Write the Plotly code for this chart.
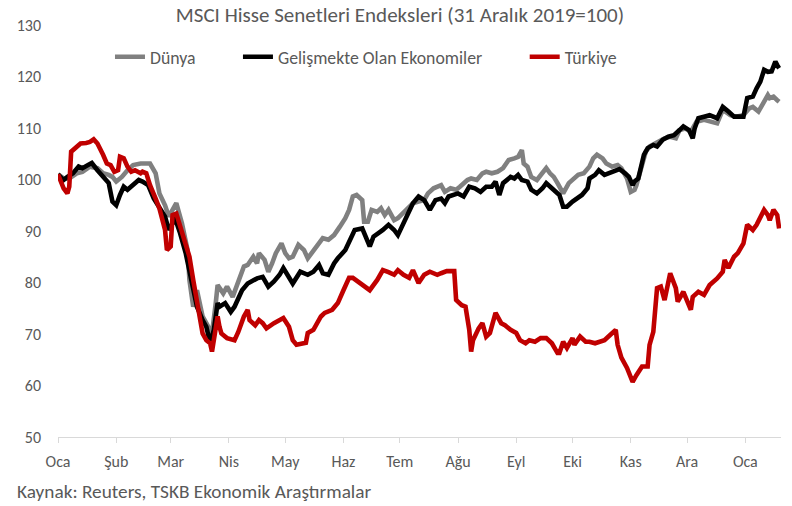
import plotly.graph_objects as go

# ---------------- data ----------------
dunya_dates = [
    "2020-01-01","2020-01-04","2020-01-07","2020-01-11","2020-01-14","2020-01-18","2020-01-22","2020-01-25",
    "2020-01-28","2020-01-30","2020-02-01","2020-02-04","2020-02-07","2020-02-10","2020-02-14","2020-02-19",
    "2020-02-22","2020-02-24","2020-02-27","2020-02-29","2020-03-02","2020-03-04","2020-03-07","2020-03-10",
    "2020-03-11","2020-03-13","2020-03-15","2020-03-18","2020-03-20","2020-03-23","2020-03-25","2020-03-26",
    "2020-03-29","2020-03-31","2020-04-03","2020-04-05","2020-04-09","2020-04-11","2020-04-14","2020-04-16",
    "2020-04-17","2020-04-20","2020-04-22","2020-04-24","2020-04-26","2020-04-29","2020-05-01","2020-05-03",
    "2020-05-05","2020-05-08","2020-05-11","2020-05-13","2020-05-16","2020-05-19","2020-05-21","2020-05-24",
    "2020-05-27","2020-05-30","2020-06-02","2020-06-04","2020-06-06","2020-06-08","2020-06-11","2020-06-12",
    "2020-06-14","2020-06-16","2020-06-19","2020-06-21","2020-06-23","2020-06-25","2020-06-28","2020-06-30",
    "2020-07-03","2020-07-06","2020-07-08","2020-07-11","2020-07-14","2020-07-16","2020-07-19","2020-07-23",
    "2020-07-25","2020-07-28","2020-07-31","2020-08-02","2020-08-06","2020-08-08","2020-08-11","2020-08-14",
    "2020-08-16","2020-08-19","2020-08-22","2020-08-25","2020-08-28","2020-08-31","2020-09-02","2020-09-04",
    "2020-09-05","2020-09-07","2020-09-09","2020-09-12","2020-09-15","2020-09-17","2020-09-19","2020-09-21",
    "2020-09-23","2020-09-26","2020-09-29","2020-10-02","2020-10-04","2020-10-07","2020-10-10","2020-10-12",
    "2020-10-14","2020-10-17","2020-10-19","2020-10-22","2020-10-25","2020-10-27","2020-10-30","2020-11-01",
    "2020-11-03","2020-11-04","2020-11-07","2020-11-09","2020-11-11","2020-11-14","2020-11-17","2020-11-19",
    "2020-11-22","2020-11-25","2020-11-27","2020-11-30","2020-12-03","2020-12-06","2020-12-10","2020-12-13",
    "2020-12-17","2020-12-20","2020-12-24","2020-12-27","2020-12-31","2021-01-03","2021-01-05","2021-01-08",
    "2021-01-11","2021-01-13","2021-01-14","2021-01-16","2021-01-18","2021-01-19",
]
dunya_values = [
    101.0,100.2,100.2,101.2,101.5,102.5,102.2,101.2,
    100.9,100.5,99.6,100.5,101.8,102.8,103.1,103.1,
    101.2,97.3,95.0,92.8,94.1,95.4,91.5,86.3,
    80.5,75.3,78.5,73.4,72.1,70.1,76.0,79.5,
    77.9,79.2,77.2,79.0,83.1,83.4,85.0,83.7,
    85.7,84.4,82.1,83.7,85.7,87.6,85.7,84.7,
    85.0,87.3,86.3,84.7,86.3,87.9,88.6,88.3,
    89.2,90.8,92.5,94.1,96.7,97.0,96.0,91.8,
    91.8,94.1,93.7,94.4,93.1,94.1,92.1,92.5,
    93.7,94.7,95.4,95.7,96.0,97.3,98.3,98.9,
    97.6,98.3,98.0,98.6,99.9,100.2,99.9,101.2,
    101.5,101.2,101.5,102.2,103.8,104.1,104.4,105.7,
    103.1,102.5,100.5,99.9,101.2,102.2,101.2,100.5,
    99.3,97.3,99.3,100.2,100.9,101.2,102.5,104.1,
    104.8,104.1,103.1,102.5,102.8,102.2,100.2,97.6,
    98.0,98.9,102.8,105.4,106.4,107.0,107.7,108.0,
    108.3,108.0,109.6,109.9,109.3,111.2,111.6,111.2,
    110.9,113.5,112.5,112.2,112.5,113.8,114.1,113.2,
    115.1,116.4,115.8,116.1,115.4,115.1,
]

goe_dates = [
    "2020-01-01","2020-01-04","2020-01-06","2020-01-09","2020-01-12","2020-01-14","2020-01-17","2020-01-19",
    "2020-01-22","2020-01-25","2020-01-28","2020-01-30","2020-02-01","2020-02-03","2020-02-05","2020-02-07",
    "2020-02-10","2020-02-13","2020-02-15","2020-02-18","2020-02-21","2020-02-24","2020-02-27","2020-02-29",
    "2020-03-02","2020-03-03","2020-03-06","2020-03-09","2020-03-11","2020-03-13","2020-03-15","2020-03-18",
    "2020-03-20","2020-03-22","2020-03-24","2020-03-26","2020-03-27","2020-03-30","2020-04-02","2020-04-04",
    "2020-04-08","2020-04-11","2020-04-13","2020-04-16","2020-04-19","2020-04-22","2020-04-25","2020-04-28",
    "2020-04-30","2020-05-03","2020-05-05","2020-05-09","2020-05-13","2020-05-16","2020-05-19","2020-05-21",
    "2020-05-24","2020-05-27","2020-05-29","2020-06-02","2020-06-05","2020-06-07","2020-06-11","2020-06-13",
    "2020-06-15","2020-06-17","2020-06-20","2020-06-22","2020-06-25","2020-06-28","2020-06-30","2020-07-03",
    "2020-07-06","2020-07-08","2020-07-11","2020-07-14","2020-07-17","2020-07-20","2020-07-23","2020-07-25",
    "2020-07-27","2020-07-30","2020-08-01","2020-08-04","2020-08-07","2020-08-10","2020-08-13","2020-08-16",
    "2020-08-19","2020-08-21","2020-08-23","2020-08-25","2020-08-29","2020-08-31","2020-09-02","2020-09-04",
    "2020-09-07","2020-09-09","2020-09-12","2020-09-15","2020-09-17","2020-09-20","2020-09-23","2020-09-24",
    "2020-09-26","2020-09-28","2020-10-01","2020-10-03","2020-10-06","2020-10-09","2020-10-10","2020-10-13",
    "2020-10-15","2020-10-18","2020-10-20","2020-10-23","2020-10-26","2020-10-29","2020-10-31","2020-11-02",
    "2020-11-03","2020-11-05","2020-11-07","2020-11-08","2020-11-10","2020-11-13","2020-11-15","2020-11-18",
    "2020-11-21","2020-11-24","2020-11-27","2020-11-29","2020-12-02","2020-12-04","2020-12-05","2020-12-07",
    "2020-12-10","2020-12-13","2020-12-17","2020-12-20","2020-12-23","2020-12-26","2020-12-28","2020-12-31",
    "2021-01-02","2021-01-05","2021-01-07","2021-01-09","2021-01-11","2021-01-13","2021-01-15","2021-01-17",
    "2021-01-18","2021-01-19",
]
goe_values = [
    101.0,99.9,100.5,101.2,102.5,102.2,102.8,103.2,
    101.8,100.5,99.3,95.7,95.0,97.0,98.6,98.0,
    98.9,99.9,99.6,98.9,96.3,94.4,92.8,90.2,
    91.5,92.8,89.6,85.7,82.4,79.2,75.3,72.7,
    71.4,68.2,70.8,76.0,75.3,76.0,74.3,75.3,
    78.5,79.8,80.2,80.8,81.1,79.2,80.2,81.5,
    82.8,81.1,79.8,82.1,81.5,82.1,83.4,81.8,
    81.5,83.7,84.7,86.3,88.9,90.2,90.5,88.9,
    87.0,88.9,89.6,90.2,91.2,90.2,89.2,91.5,
    94.1,95.4,96.7,96.0,94.1,96.0,96.3,95.4,
    96.7,97.0,97.3,96.7,98.6,98.3,97.6,98.6,
    98.6,99.6,97.0,99.3,100.5,100.2,100.9,99.9,
    99.6,98.0,97.3,98.3,99.3,98.3,97.3,97.0,
    94.7,94.7,95.7,96.3,97.0,98.3,100.2,100.9,
    101.8,100.9,101.2,101.5,102.0,101.2,100.5,98.9,
    99.6,100.2,102.8,104.8,106.1,106.7,106.4,107.7,
    108.3,108.6,109.6,110.3,109.6,108.0,109.9,111.9,
    112.2,112.5,111.9,114.1,113.2,112.2,112.2,112.2,
    115.8,116.1,117.7,119.0,121.3,120.9,121.0,122.9,
    122.2,121.6,
]

turkiye_dates = [
    "2020-01-01","2020-01-04","2020-01-06","2020-01-07","2020-01-08","2020-01-11","2020-01-13","2020-01-16",
    "2020-01-18","2020-01-20","2020-01-22","2020-01-25","2020-01-27","2020-01-29","2020-01-31","2020-02-02",
    "2020-02-03","2020-02-05","2020-02-07","2020-02-09","2020-02-11","2020-02-14","2020-02-15","2020-02-17",
    "2020-02-19","2020-02-22","2020-02-24","2020-02-27","2020-02-28","2020-03-01","2020-03-02","2020-03-04",
    "2020-03-06","2020-03-08","2020-03-10","2020-03-11","2020-03-13","2020-03-15","2020-03-17","2020-03-18",
    "2020-03-20","2020-03-22","2020-03-23","2020-03-25","2020-03-26","2020-03-27","2020-03-28","2020-03-31",
    "2020-04-03","2020-04-04","2020-04-06","2020-04-09","2020-04-11","2020-04-12","2020-04-15","2020-04-17",
    "2020-04-19","2020-04-21","2020-04-25","2020-04-30","2020-05-03","2020-05-05","2020-05-07","2020-05-12",
    "2020-05-13","2020-05-16","2020-05-20","2020-05-22","2020-05-26","2020-05-29","2020-06-01","2020-06-04",
    "2020-06-06","2020-06-09","2020-06-12","2020-06-15","2020-06-19","2020-06-22","2020-06-25","2020-06-28",
    "2020-06-30","2020-07-03","2020-07-06","2020-07-08","2020-07-11","2020-07-14","2020-07-17","2020-07-21",
    "2020-07-23","2020-07-26","2020-07-30","2020-07-31","2020-08-03","2020-08-05","2020-08-07","2020-08-08",
    "2020-08-09","2020-08-12","2020-08-14","2020-08-16","2020-08-18","2020-08-21","2020-08-24","2020-08-26",
    "2020-08-29","2020-09-01","2020-09-03","2020-09-06","2020-09-08","2020-09-11","2020-09-14","2020-09-17",
    "2020-09-20","2020-09-23","2020-09-24","2020-09-26","2020-09-28","2020-10-01","2020-10-02","2020-10-05",
    "2020-10-08","2020-10-10","2020-10-13","2020-10-16","2020-10-18","2020-10-21","2020-10-24","2020-10-25",
    "2020-10-27","2020-10-30","2020-11-02","2020-11-04","2020-11-07","2020-11-10","2020-11-11","2020-11-13",
    "2020-11-15","2020-11-17","2020-11-19","2020-11-22","2020-11-25","2020-11-26","2020-11-29","2020-12-03",
    "2020-12-04","2020-12-07","2020-12-10","2020-12-13","2020-12-17","2020-12-20","2020-12-21","2020-12-23",
    "2020-12-26","2020-12-28","2020-12-31","2021-01-02","2021-01-05","2021-01-07","2021-01-09","2021-01-11",
    "2021-01-13","2021-01-14","2021-01-16","2021-01-18","2021-01-19",
]
turkiye_values = [
    101.0,98.3,97.3,98.6,105.4,106.4,107.0,107.1,
    107.3,107.8,107.0,104.8,103.1,102.8,101.5,101.8,
    104.4,104.1,102.5,101.5,101.8,101.2,101.5,101.2,
    98.9,96.3,94.4,90.2,86.3,87.0,93.1,93.4,
    90.8,88.3,86.3,85.0,80.5,76.0,71.4,70.1,
    68.8,68.2,66.6,70.8,73.4,71.4,70.1,69.2,
    68.8,68.8,70.4,73.4,74.7,72.7,71.7,72.7,
    72.1,71.1,72.1,73.1,71.4,68.8,67.9,68.3,
    70.2,70.8,73.4,74.1,74.7,76.0,78.5,80.9,
    80.9,80.1,79.1,78.5,80.5,82.4,82.0,81.5,
    82.4,81.5,80.9,82.4,79.9,81.5,82.1,81.5,
    81.8,82.2,82.2,76.6,75.6,75.3,70.8,66.6,
    68.8,71.1,72.1,69.5,70.2,74.1,72.1,71.7,
    70.8,70.2,68.8,68.2,68.8,68.5,69.2,69.2,
    68.2,66.3,66.3,68.5,67.3,69.2,67.9,69.5,
    68.5,68.5,68.2,68.5,68.8,69.8,70.8,67.9,
    65.4,63.4,60.7,62.0,63.7,63.7,67.9,70.4,
    78.9,79.2,76.6,81.8,78.9,76.3,78.2,74.7,
    77.2,78.2,77.6,79.5,80.8,82.1,84.4,82.8,
    85.0,85.7,87.6,91.2,90.2,91.2,92.5,94.1,
    93.1,92.1,94.1,93.1,90.5,
]

series_names = ["Dünya", "Gelişmekte Olan Ekonomiler", "Türkiye"]
series_colors = ["#808080", "#000000", "#c00000"]

month_ticks = ["2020-01-01","2020-02-01","2020-03-01","2020-04-01","2020-05-01","2020-06-01",
               "2020-07-01","2020-08-01","2020-09-01","2020-10-01","2020-11-01","2020-12-01","2021-01-01"]
month_labels = ["Oca","Şub","Mar","Nis","May","Haz","Tem","Ağu","Eyl","Eki","Kas","Ara","Oca"]
y_ticks = [50, 60, 70, 80, 90, 100, 110, 120, 130]

title_text = "MSCI Hisse Senetleri Endeksleri (31 Aralık 2019=100)"
source_text = "Kaynak: Reuters, TSKB Ekonomik Araştırmalar"

# ---------------- figure ----------------
FONT = "Carlito, Lato, sans-serif"
TXT = "#595959"
legend_ids = ["legend", "legend2", "legend3"]
legend_x = [0.0719, 0.2489, 0.6455]   # one legend box per series, placed like the reference

fig = go.Figure()
for name, xs, ys, col, lg in zip(series_names,
                                  [dunya_dates, goe_dates, turkiye_dates],
                                  [dunya_values, goe_values, turkiye_values],
                                  series_colors, legend_ids):
    fig.add_trace(go.Scatter(x=xs, y=ys, name=name, mode="lines", legend=lg,
                             line=dict(color=col, width=4.6)))

legend_style = dict(orientation="h", xref="paper", xanchor="left",
                    yref="paper", y=0.922, yanchor="middle",
                    font=dict(family=FONT, size=17.8, color=TXT),
                    bgcolor="rgba(0,0,0,0)", itemwidth=30)

fig.update_layout(
    width=792, height=506,
    margin=dict(l=58, r=11, t=25, b=69, autoexpand=False),
    paper_bgcolor="white", plot_bgcolor="white",
    font=dict(family=FONT, color=TXT, size=16),
    title=dict(text=title_text, xref="container", x=0.505, xanchor="center",
               yref="container", y=0.972, yanchor="middle",
               font=dict(family=FONT, size=21, color=TXT)),
    legend=dict(x=legend_x[0], **legend_style),
    legend2=dict(x=legend_x[1], **legend_style),
    legend3=dict(x=legend_x[2], **legend_style),
    showlegend=True,
)
fig.update_xaxes(
    type="date", range=["2020-01-01", "2021-01-20"],
    tickvals=month_ticks, ticktext=month_labels,
    showgrid=False, showline=True, linecolor="#d9d9d9", linewidth=1,
    ticks="outside", ticklen=5, tickcolor="#d9d9d9",
    ticklabelstandoff=5,
    tickfont=dict(family=FONT, size=16, color=TXT),
    zeroline=False, automargin=False,
)
fig.update_yaxes(
    range=[50, 130], tickvals=y_ticks,
    showgrid=False, showline=False, zeroline=False,
    ticks="", ticklabelstandoff=16, automargin=False,
    tickfont=dict(family=FONT, size=16, color=TXT),
)
fig.add_annotation(text=source_text, xref="paper", yref="paper",
                   x=-0.0595, y=-0.1328, xanchor="left", yanchor="middle",
                   showarrow=False, font=dict(family=FONT, size=19.3, color=TXT))

fig.write_html("out.html", config={"displayModeBar": False},
               post_script="document.body.style.margin='0px';")
